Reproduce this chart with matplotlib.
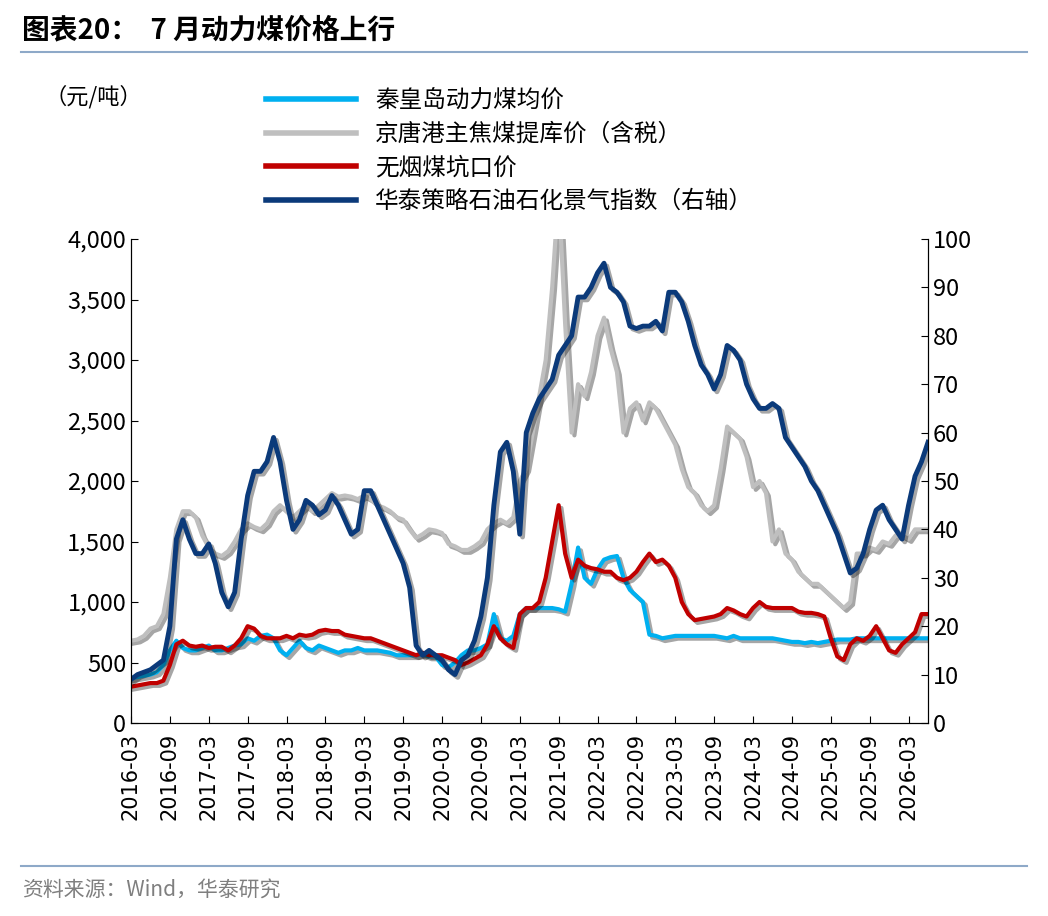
import numpy as np
import pandas as pd
import matplotlib
import matplotlib.pyplot as plt
import matplotlib.patheffects as pe
from matplotlib.lines import Line2D

plt.rcParams['font.family'] = ['Noto Sans CJK SC', 'DejaVu Sans']

# 华泰策略石油石化景气指数（右轴）
idx = [9, 10, 10.5, 11, 12, 13, 20, 38, 42, 38,
       35, 35, 37, 33, 27, 24, 27, 38, 47, 52, 52, 54,
       59, 54, 46, 40, 42, 46, 45, 43, 44, 47, 45, 42,
       39, 40, 48, 48, 45, 42, 39, 36, 33, 28, 16, 14,
       15, 14, 13, 11, 10, 13, 14, 17, 22, 30, 45, 56,
       58, 52, 39, 60, 64, 67, 69, 71, 76, 78, 80, 88,
       88, 90, 93, 95, 90, 89, 87, 82, 81.5, 82, 82, 83,
       81, 89, 89, 87, 83, 78, 74, 72, 69, 72, 78, 77,
       75, 70, 67, 65, 65, 66, 65, 59, 57, 55, 53, 50,
       48, 45, 42, 39, 35, 31, 32, 35, 40, 44, 45, 42,
       40, 38, 45, 51, 54, 58]
# 京唐港主焦煤提库价（含税）
coke = [680, 690, 720, 780, 800, 900, 1200, 1600, 1750, 1750,
        1700, 1550, 1450, 1400, 1380, 1420, 1500, 1600, 1650, 1620, 1600, 1650,
        1750, 1800, 1750, 1700, 1750, 1800, 1750, 1800, 1850, 1900, 1870, 1880,
        1870, 1850, 1880, 1850, 1800, 1780, 1750, 1700, 1680, 1600, 1530, 1560,
        1600, 1590, 1570, 1480, 1460, 1430, 1430, 1460, 1500, 1600, 1650, 1680,
        1650, 1700, 2000, 2100, 2400, 2700, 3000, 3600, 4400, 3300, 2400, 2800,
        2700, 2900, 3200, 3350, 3100, 2900, 2400, 2600, 2650, 2500, 2650, 2600,
        2500, 2400, 2300, 2100, 1950, 1900, 1800, 1750, 1800, 2100, 2450, 2400,
        2350, 2200, 1950, 2000, 1900, 1500, 1600, 1400, 1350, 1250, 1200, 1150,
        1150, 1100, 1050, 1000, 950, 1000, 1400, 1400, 1450, 1430, 1500, 1480,
        1550, 1550, 1520, 1600, 1600, 1600]
# 无烟煤坑口价
anth = [300, 310, 320, 330, 330, 350, 480, 650, 680, 640,
        630, 640, 620, 630, 630, 600, 640, 700, 800, 780, 720, 700,
        700, 700, 720, 700, 730, 720, 730, 760, 770, 760, 760, 730,
        720, 710, 700, 700, 680, 660, 640, 620, 600, 580, 560, 580,
        560, 560, 560, 540, 520, 480, 500, 530, 560, 650, 800, 700,
        650, 620, 900, 950, 950, 1000, 1200, 1500, 1800, 1400, 1200, 1350,
        1300, 1280, 1270, 1250, 1250, 1200, 1180, 1200, 1250, 1330, 1400, 1330,
        1350, 1300, 1200, 1000, 900, 850, 860, 870, 880, 900, 950, 930,
        900, 880, 950, 1000, 960, 950, 950, 950, 950, 920, 910, 910,
        900, 880, 700, 550, 520, 650, 700, 680, 720, 800, 700, 600,
        580, 650, 700, 750, 900, 900]
# 秦皇岛动力煤均价
qhd = [370, 380, 390, 400, 420, 480, 600, 680, 620, 600,
       600, 620, 640, 600, 600, 620, 640, 650, 700, 680, 720, 730,
       700, 600, 560, 620, 680, 620, 600, 640, 620, 600, 580, 600,
       600, 620, 600, 600, 600, 590, 580, 560, 560, 560, 560, 570,
       550, 550, 480, 460, 500, 560, 600, 600, 620, 650, 900, 700,
       680, 720, 900, 950, 950, 950, 950, 950, 940, 920, 1150, 1450,
       1200, 1150, 1270, 1350, 1370, 1380, 1200, 1100, 1050, 1000, 730, 720,
       700, 710, 720, 720, 720, 720, 720, 720, 720, 710, 700, 720,
       700, 700, 700, 700, 700, 700, 690, 680, 670, 670, 660, 670,
       660, 670, 680, 690, 690, 690, 700, 700, 700, 700, 700, 700,
       700, 700, 700, 700, 700, 700]

x = np.arange(len(idx))
dates = pd.date_range('2016-03-01', periods=len(idx), freq='MS')
tick_pos = x[::6]
tick_lab = [d.strftime('%Y-%m') for d in dates[::6]]

c_cyan = '#00b0f0'
c_grey = '#bfbfbf'
c_red = '#c00000'
c_navy = '#0b3a7a'
shadow = [pe.SimpleLineShadow(offset=(2, -2), alpha=0.35), pe.Normal()]

fig = plt.figure(figsize=(10.48, 9.16), dpi=100)
ax = fig.add_axes([131 / 1048, 1 - 723 / 916, (928 - 131) / 1048, (723 - 239) / 916])
ax2 = ax.twinx()

ax.plot(x, coke, color=c_grey, lw=3, path_effects=shadow)
ax.plot(x, qhd, color=c_cyan, lw=3, path_effects=shadow)
ax.plot(x, anth, color=c_red, lw=3, path_effects=shadow)
ax2.plot(x, idx, color=c_navy, lw=3.5, path_effects=shadow)

ax.set_xlim(0, len(idx) - 1)
ax.set_ylim(0, 4000)
ax2.set_ylim(0, 100)
ax.set_yticks(range(0, 4001, 500))
ax.set_yticklabels([f'{v:,}' for v in range(0, 4001, 500)], fontsize=17)
ax2.set_yticks(range(0, 101, 10))
ax2.tick_params(labelsize=17, direction='in', length=5)
ax.tick_params(axis='y', direction='in', length=5)
ax.set_xticks(tick_pos)
ax.set_xticklabels(tick_lab, rotation=90, fontsize=15, family='DejaVu Sans')
ax.tick_params(axis='x', direction='in', length=5, pad=7)
for a in (ax, ax2):
    a.spines['top'].set_visible(False)

handles = [Line2D([], [], color=c_cyan, lw=4), Line2D([], [], color=c_grey, lw=4),
           Line2D([], [], color=c_red, lw=4), Line2D([], [], color=c_navy, lw=4)]
names = ['秦皇岛动力煤均价', '京唐港主焦煤提库价（含税）', '无烟煤坑口价', '华泰策略石油石化景气指数（右轴）']
fig.legend(handles, names, loc='upper left', bbox_to_anchor=(245 / 1048, 1 - 68 / 916),
           frameon=False, fontsize=17, handlelength=3.8, labelspacing=0.45)

fig.text(45 / 1048, 1 - 97 / 916, '（元/吨）', fontsize=16, va='center')
fig.text(22 / 1048, 1 - 30 / 916, '图表20：  7 月动力煤价格上行', fontsize=20,
         fontweight='bold', va='center')
fig.add_artist(Line2D([0.02, 0.98], [1 - 52 / 916] * 2, color='#8ea9c8', lw=1.5))
fig.add_artist(Line2D([0.02, 0.98], [1 - 866 / 916] * 2, color='#8ea9c8', lw=1.5))
fig.text(22 / 1048, 1 - 890 / 916, '资料来源：Wind，华泰研究', fontsize=15,
         color='#7f7f7f', va='center')

fig.savefig('out.png', dpi=100)
